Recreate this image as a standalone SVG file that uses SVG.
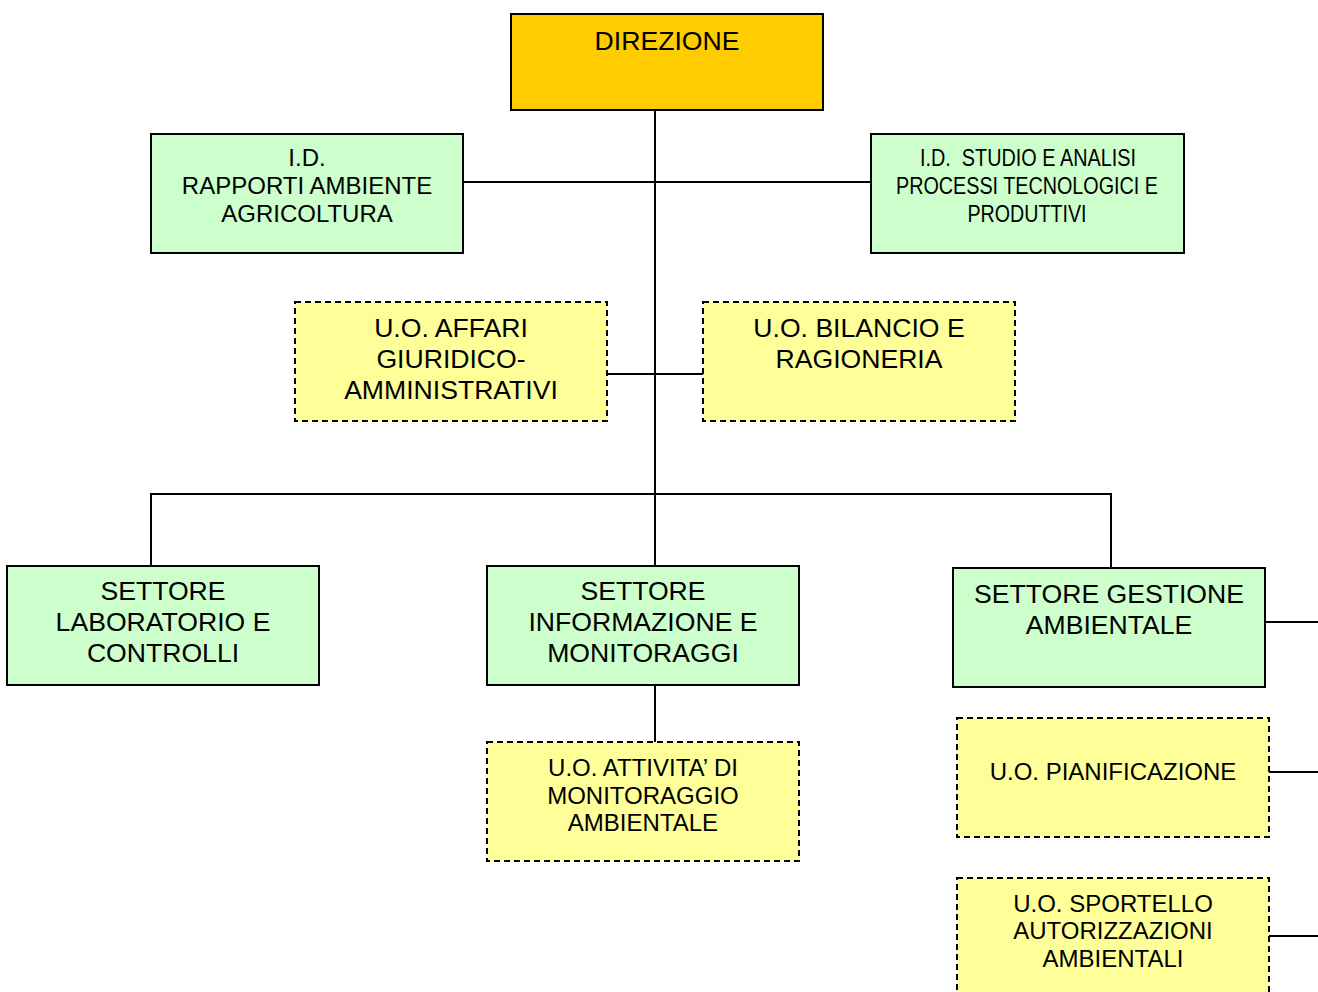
<svg xmlns="http://www.w3.org/2000/svg" width="1318" height="992" viewBox="0 0 1318 992">
<style>
.box{stroke:#000;stroke-width:2}
.dir{fill:#FFCC00}
.grn{fill:#CCFFCC}
.yel{fill:#FFFF99;stroke-dasharray:6 4}
text{font-family:"Liberation Sans",Arial,sans-serif;fill:#000;text-anchor:middle}
.t26{font-size:26.6px}
.t24{font-size:24px}
.nar{font-family:"Liberation Sans Narrow","Arial Narrow","Liberation Sans",sans-serif;font-size:24px}
.ln{stroke:#000;stroke-width:2;fill:none}
</style>
<rect width="1318" height="992" fill="#fff"/>
<g id="connectors">
<line class="ln" x1="655" y1="110" x2="655" y2="566"/>
<line class="ln" x1="463" y1="182" x2="871" y2="182"/>
<line class="ln" x1="607" y1="374" x2="703" y2="374"/>
<polyline class="ln" points="151,566 151,494 1111,494 1111,568"/>
<line class="ln" x1="655" y1="685" x2="655" y2="742"/>
<line class="ln" x1="1265" y1="622" x2="1318" y2="622"/>
<line class="ln" x1="1269" y1="772" x2="1318" y2="772"/>
<line class="ln" x1="1269" y1="936" x2="1318" y2="936"/>
</g>
<g id="direzione">
<rect class="box dir" x="511" y="14" width="312" height="96"/>
<text class="t26" x="667" y="50">DIREZIONE</text>
</g>
<g id="id-rapporti">
<rect class="box grn" x="151" y="134" width="312" height="119"/>
<text class="t24" x="307" y="166">I.D.</text>
<text class="t24" x="307" y="194">RAPPORTI AMBIENTE</text>
<text class="t24" x="307" y="222">AGRICOLTURA</text>
</g>
<g id="id-studio">
<rect class="box grn" x="871" y="134" width="313" height="119"/>
<text class="nar" x="1028" y="166" textLength="216" lengthAdjust="spacingAndGlyphs" xml:space="preserve">I.D.  STUDIO E ANALISI</text>
<text class="nar" x="1027" y="194" textLength="262" lengthAdjust="spacingAndGlyphs">PROCESSI TECNOLOGICI E</text>
<text class="nar" x="1027" y="222" textLength="119" lengthAdjust="spacingAndGlyphs">PRODUTTIVI</text>
</g>
<g id="uo-affari">
<rect class="box yel" x="295" y="302" width="312" height="119"/>
<text class="t26" x="451" y="337">U.O. AFFARI</text>
<text class="t26" x="451" y="368">GIURIDICO-</text>
<text class="t26" x="451" y="399">AMMINISTRATIVI</text>
</g>
<g id="uo-bilancio">
<rect class="box yel" x="703" y="302" width="312" height="119"/>
<text class="t26" x="859" y="337">U.O. BILANCIO E</text>
<text class="t26" x="859" y="368">RAGIONERIA</text>
</g>
<g id="settore-laboratorio">
<rect class="box grn" x="7" y="566" width="312" height="119"/>
<text class="t26" x="163" y="600">SETTORE</text>
<text class="t26" x="163" y="631">LABORATORIO E</text>
<text class="t26" x="163" y="662">CONTROLLI</text>
</g>
<g id="settore-informazione">
<rect class="box grn" x="487" y="566" width="312" height="119"/>
<text class="t26" x="643" y="600">SETTORE</text>
<text class="t26" x="643" y="631">INFORMAZIONE E</text>
<text class="t26" x="643" y="662">MONITORAGGI</text>
</g>
<g id="settore-gestione">
<rect class="box grn" x="953" y="568" width="312" height="119"/>
<text class="t26" x="1109" y="603">SETTORE GESTIONE</text>
<text class="t26" x="1109" y="634">AMBIENTALE</text>
</g>
<g id="uo-attivita">
<rect class="box yel" x="487" y="742" width="312" height="119"/>
<text class="t24" x="643" y="776">U.O. ATTIVITA’ DI</text>
<text class="t24" x="643" y="804">MONITORAGGIO</text>
<text class="t24" x="643" y="831">AMBIENTALE</text>
</g>
<g id="uo-pianificazione">
<rect class="box yel" x="957" y="718" width="312" height="119"/>
<text class="t24" x="1113" y="780">U.O. PIANIFICAZIONE</text>
</g>
<g id="uo-sportello">
<rect class="box yel" x="957" y="878" width="312" height="124"/>
<text class="t24" x="1113" y="912">U.O. SPORTELLO</text>
<text class="t24" x="1113" y="939">AUTORIZZAZIONI</text>
<text class="t24" x="1113" y="967">AMBIENTALI</text>
</g>
</svg>
